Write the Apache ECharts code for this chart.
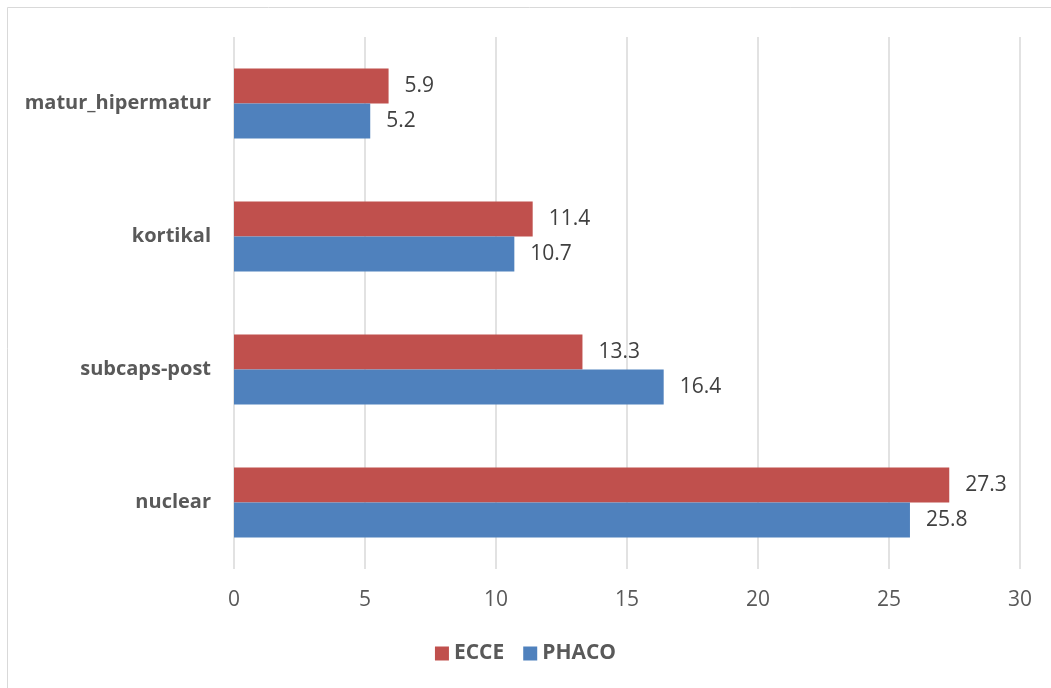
<!DOCTYPE html>
<html>
<head>
<meta charset="utf-8">
<script src="https://cdn.jsdelivr.net/npm/echarts@6/dist/echarts.min.js"></script>
<style>
html, body { margin: 0; padding: 0; background: #fff; }
#chart { width: 1051px; height: 688px; }
</style>
</head>
<body>
<div id="chart"></div>
<script>
// kategori dari bawah ke atas
const categories = ['nuclear', 'subcaps-post', 'kortikal', 'matur_hipermatur'];
const ecceValues = [27.3, 13.3, 11.4, 5.9];
const phacoValues = [25.8, 16.4, 10.7, 5.2];
const xTicks = [0, 30, 5]; // min, max, interval

const fontFamily = '"Open Sans", sans-serif';

const labelStyle = {
    show: true,
    position: 'right',
    distance: 16,
    color: '#404040',
    fontSize: 21,
    fontFamily,
};

const chart = echarts.init(document.getElementById('chart'), null, { renderer: 'canvas' });

chart.setOption({
    animation: false,
    backgroundColor: '#fff',
    graphic: [{
        type: 'rect',
        shape: { x: 7.5, y: 7.5, width: 1060, height: 700 },
        style: { fill: 'none', stroke: '#d9d9d9', lineWidth: 1 },
        silent: true,
    }],
    grid: {
        left: 234,
        right: 31,
        top: 37,
        bottom: 119,
        containLabel: false,
    },
    legend: {
        data: ['ECCE', 'PHACO'],
        bottom: 19,
        left: 'center',
        icon: 'rect',
        itemWidth: 14,
        itemHeight: 14,
        itemGap: 19,
        textStyle: {
            color: '#595959',
            fontSize: 21,
            fontWeight: 'bold',
            fontFamily,
        },
    },
    xAxis: {
        type: 'value',
        min: xTicks[0],
        max: xTicks[1],
        interval: xTicks[2],
        axisLine: { show: false },
        axisTick: { show: false },
        splitLine: { lineStyle: { color: '#d9d9d9', width: 1.5 } },
        axisLabel: {
            margin: 21,
            color: '#595959',
            fontSize: 21,
            fontFamily,
        },
    },
    yAxis: {
        type: 'category',
        data: categories,
        axisLine: { show: false },
        axisTick: { show: false },
        axisLabel: {
            margin: 23,
            color: '#595959',
            fontSize: 20,
            fontWeight: 'bold',
            fontFamily,
        },
    },
    series: [
        {
            name: 'ECCE',
            type: 'bar',
            data: ecceValues,
            barWidth: 35,
            barGap: '0%',
            itemStyle: { color: '#C0504D' },
            label: labelStyle,
        },
        {
            name: 'PHACO',
            type: 'bar',
            data: phacoValues,
            barWidth: 35,
            barGap: '0%',
            itemStyle: { color: '#4F81BD' },
            label: labelStyle,
        },
    ],
});
</script>
</body>
</html>
